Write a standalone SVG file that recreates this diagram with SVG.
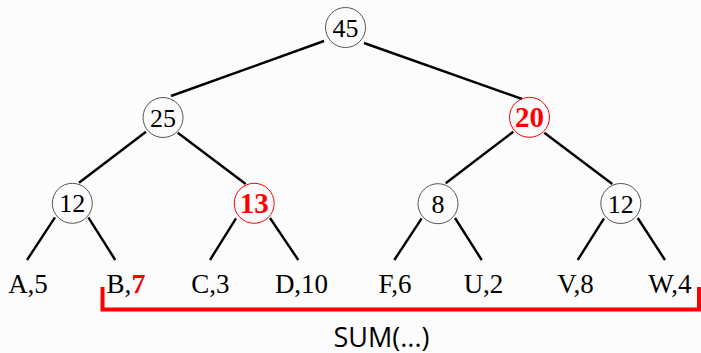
<svg xmlns="http://www.w3.org/2000/svg" width="701" height="353" viewBox="0 0 701 353">
<style>
.bg{fill:#fcfcfc}
.c{fill:none;stroke:#555;stroke-width:1}
.cr{fill:none;stroke:#ff0000;stroke-width:1}
.t{font-family:"Liberation Serif","Times New Roman",serif;font-size:26px;fill:#000;text-anchor:middle}
.tb{font-family:"Liberation Serif","Times New Roman",serif;font-size:29px;font-weight:bold;fill:#ff0000;text-anchor:middle}
.lf{font-family:"Liberation Serif","Times New Roman",serif;font-size:27px;fill:#000;text-anchor:middle}
.r{font-weight:bold;fill:#ff0000;font-size:28px}
.e line{stroke:#000;stroke-width:2.4;stroke-linecap:butt}
.br{fill:none;stroke:#ff0000;stroke-width:4}
.sum{font-family:"Open Sans","Noto Sans",sans-serif;font-size:27px;fill:#000;text-anchor:middle}
</style>
<rect class="bg" x="0" y="0" width="701" height="353"/>
<g id="connectors" class="e">
<line x1="324" y1="41" x2="171" y2="96"/>
<line x1="364" y1="43" x2="522" y2="99"/>
<line x1="146" y1="131.7" x2="79" y2="182.7"/>
<line x1="177.7" y1="132.7" x2="245.7" y2="184"/>
<line x1="513.3" y1="131.7" x2="445.7" y2="183.3"/>
<line x1="544.3" y1="132.7" x2="612.3" y2="184"/>
<line x1="55" y1="217.3" x2="27" y2="260"/>
<line x1="88.3" y1="217.3" x2="115.3" y2="260"/>
<line x1="236" y1="218.3" x2="210" y2="260"/>
<line x1="270" y1="218" x2="298.3" y2="260"/>
<line x1="421.7" y1="218.3" x2="394.3" y2="260"/>
<line x1="455" y1="218" x2="481.7" y2="260"/>
<line x1="604" y1="218.3" x2="577.7" y2="260"/>
<line x1="637.7" y1="218" x2="665" y2="260"/>
</g>
<g id="n45"><circle class="c" cx="345.5" cy="27.5" r="20"/><text class="t" x="345.5" y="36.5">45</text></g>
<g id="n25"><circle class="c" cx="163" cy="117.5" r="20"/><text class="t" x="163" y="126.5">25</text></g>
<g id="n20"><circle class="cr" cx="529.5" cy="117.3" r="20"/><text class="tb" x="529.5" y="127.3">20</text></g>
<g id="n12a"><circle class="c" cx="72.3" cy="203.3" r="20"/><text class="t" x="72.3" y="212.3">12</text></g>
<g id="n13"><circle class="cr" cx="254.2" cy="203.3" r="20"/><text class="tb" x="254.2" y="213.3">13</text></g>
<g id="n8"><circle class="c" cx="438" cy="203.7" r="20"/><text class="t" x="438" y="212.7">8</text></g>
<g id="n12b"><circle class="c" cx="620.8" cy="203.5" r="20"/><text class="t" x="620.8" y="212.5">12</text></g>
<g id="leafA"><text class="lf" x="28" y="293">A,5</text></g>
<g id="leafB"><text class="lf" x="126" y="293">B,<tspan class="r">7</tspan></text></g>
<g id="leafC"><text class="lf" x="210.5" y="293">C,3</text></g>
<g id="leafD"><text class="lf" x="301.5" y="293">D,10</text></g>
<g id="leafF"><text class="lf" x="395" y="293">F,6</text></g>
<g id="leafU"><text class="lf" x="483.5" y="293">U,2</text></g>
<g id="leafV"><text class="lf" x="575.5" y="293">V,8</text></g>
<g id="leafW"><text class="lf" x="670" y="293">W,4</text></g>
<g id="bracket"><path class="br" d="M102.5,287 V309.5 H699 V287"/><text class="sum" x="381.5" y="346.5">SUM(...)</text></g>
</svg>
